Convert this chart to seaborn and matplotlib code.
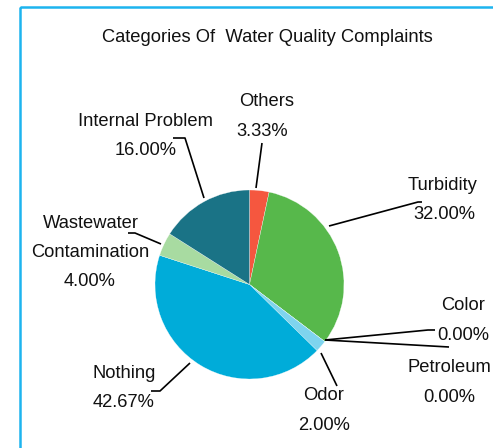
import matplotlib
matplotlib.use('Agg')
import matplotlib.pyplot as plt
import seaborn as sns
from matplotlib.patches import Rectangle

sns.set_theme(style='white')
plt.rcParams['font.family'] = ['Liberation Sans', 'DejaVu Sans']

# data (clockwise from 12 o'clock)
categories = ['Others', 'Turbidity', 'Color', 'Petroleum', 'Odor',
              'Nothing', 'Wastewater\nContamination', 'Internal Problem']
shares = [3.33, 32.00, 0.00, 0.00, 2.00, 42.67, 4.00, 16.00]
colors = ['#f5573f', '#57b84b', '#f7a35c', '#8085e9', '#7ed4ee',
          '#00acd9', '#a8dba1', '#1a7386']
title = 'Categories Of  Water Quality Complaints'

# label layout in pixels: name centre, leader start, elbow, elbow end
label_pos = {
    'Others': (267, 102),
    'Turbidity': (443, 185),
    'Color': (463, 306),
    'Petroleum': (449, 368),
    'Odor': (324, 396),
    'Nothing': (124, 373),
    'Wastewater\nContamination': (91, 223),
    'Internal Problem': (145, 121),
}
pct_x = {'Others': 262, 'Turbidity': 444, 'Color': 463, 'Petroleum': 449,
         'Odor': 324, 'Nothing': 124, 'Wastewater\nContamination': 90,
         'Internal Problem': 146}
leaders = {
    'Others': [(256, 188), (262, 143)],
    'Turbidity': [(329, 226), (418, 202), (422, 202)],
    'Color': [(325, 340), (428, 330), (435, 330)],
    'Petroleum': [(325, 340), (449, 347)],
    'Odor': [(321, 353), (337, 386)],
    'Nothing': [(190, 363), (160, 391), (151, 391)],
    'Wastewater\nContamination': [(161, 244), (135, 233), (128, 233)],
    'Internal Problem': [(204, 198), (185, 138), (173, 138)],
}

W, H = 493, 448
fig = plt.figure(figsize=(W / 100, H / 100), dpi=100)
ax = fig.add_axes([0, 0, 1, 1])

ax.pie(shares, colors=colors, center=(249.5, 284.5), radius=94.5,
       startangle=-90, counterclock=True,
       wedgeprops=dict(edgecolor='white', linewidth=0.2))
ax.set_xlim(0, W)
ax.set_ylim(H, 0)
ax.set_aspect('equal')
ax.axis('off')

# frame
ax.add_patch(Rectangle((19.5, 7), 700, 700, fill=False, ec='#1db4ef', lw=1.8))

fs = 13.2
ax.text(267, 37, title, ha='center', va='center', fontsize=fs, color='#111111')

line_gap = 29.5
for cat, val in zip(categories, shares):
    x, y = label_pos[cat]
    lines = cat.split('\n')
    for i, ln in enumerate(lines):
        lx = x if i == 0 else x - 1
        ax.text(lx, y + i * line_gap, ln, ha='center', va='center',
                fontsize=fs, color='#111111')
    ax.text(pct_x[cat], y + len(lines) * line_gap, f'{val:.2f}%',
            ha='center', va='center', fontsize=fs, color='#111111')
    pts = leaders[cat]
    ax.plot([p[0] for p in pts], [p[1] for p in pts], color='black', lw=1.2,
            solid_capstyle='butt')

fig.savefig('out.png', dpi=100)
